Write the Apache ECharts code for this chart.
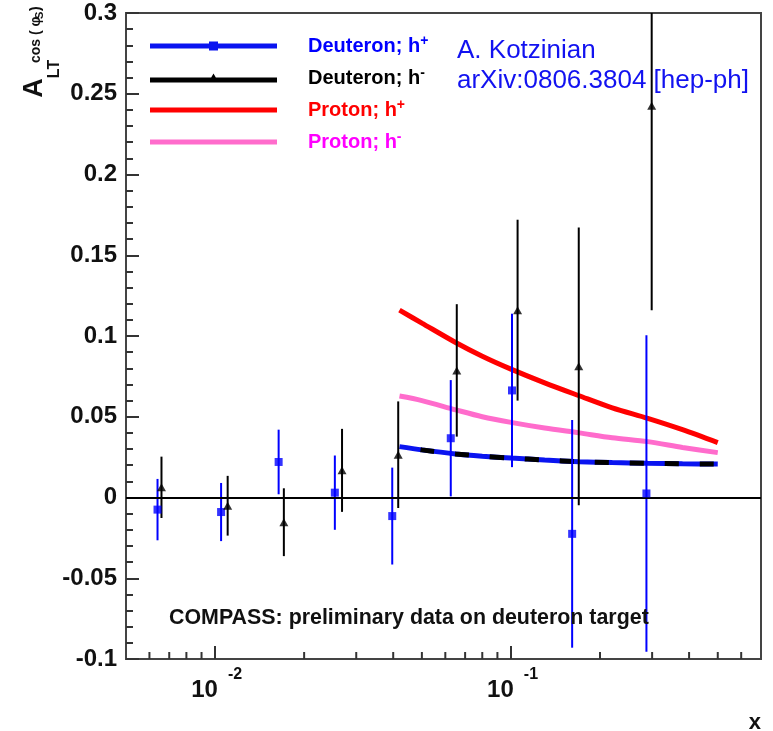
<!DOCTYPE html>
<html>
<head>
<meta charset="utf-8">
<script src="https://cdn.jsdelivr.net/npm/echarts@6/dist/echarts.min.js"></script>
<style>
  html, body { margin: 0; padding: 0; background: #ffffff; }
  #chart { width: 773px; height: 731px; }
</style>
</head>
<body>
<div id="chart"></div>
<script>
// COMPASS deuteron data, h+ (x, asymmetry, stat. error)
const xDeutPlus     = [0.00639, 0.01048, 0.0164, 0.0254, 0.0397, 0.0626, 0.1008, 0.161, 0.287];
const asymDeutPlus  = [-0.0075, -0.009, 0.022, 0.003, -0.0115, 0.0367, 0.0663, -0.0225, 0.0025];
const errDeutPlus   = [0.019, 0.018, 0.020, 0.023, 0.030, 0.036, 0.0475, 0.0705, 0.098];

// COMPASS deuteron data, h-
const xDeutMinus    = [0.00659, 0.01103, 0.01708, 0.02686, 0.04159, 0.0656, 0.1053, 0.1695, 0.299];
const asymDeutMinus = [0.0063, -0.0051, -0.0153, 0.0168, 0.0265, 0.0787, 0.116, 0.0812, 0.2425];
const errDeutMinus  = [0.019, 0.0185, 0.021, 0.0257, 0.033, 0.041, 0.056, 0.086, 0.1265];

// model predictions (A. Kotzinian)
const xModel           = [0.042, 0.05, 0.065, 0.08, 0.1, 0.13, 0.17, 0.22, 0.29, 0.38, 0.5];
const modelProtonPlus  = [0.116, 0.108, 0.096, 0.0875, 0.0795, 0.071, 0.063, 0.0555, 0.049, 0.042, 0.034];
const modelProtonMinus = [0.0628, 0.060, 0.0543, 0.050, 0.0465, 0.043, 0.040, 0.037, 0.0346, 0.031, 0.0278];
const modelDeutPlus    = [0.0315, 0.0295, 0.027, 0.0256, 0.0244, 0.0232, 0.0222, 0.0216, 0.0212, 0.0209, 0.0207];
const modelDeutMinus   = [0.0315, 0.0295, 0.027, 0.0256, 0.0244, 0.0232, 0.0222, 0.0216, 0.0212, 0.0209, 0.0207];

// axes
const xRange = [0.005, 0.7];
const yRange = [-0.1, 0.3];
const yStep = 0.05;
const xDecadeExponents = [-2, -1];
const xMinorTicks = [0.006, 0.007, 0.008, 0.009,
                     0.02, 0.03, 0.04, 0.05, 0.06, 0.07, 0.08, 0.09,
                     0.2, 0.3, 0.4, 0.5, 0.6];

const seriesNames = ['Deuteron; h+', 'Deuteron; h-', 'Proton; h+', 'Proton; h-'];
const lineColors  = ['#0a14f0', '#000000', '#ff0000', '#ff6ccc'];
const textColors  = ['#0000ff', '#000000', '#ff0000', '#ff00ff'];
const legendIcons = [
  'path://M0,2H127V7H0Z M59,0H68V9H59Z',
  'path://M0,4H127V9H0Z M63.5,0L67,6H60Z',
  'path://M0,0H127V5H0Z',
  'path://M0,0H127V5H0Z'
];

const FONT = '"Liberation Sans", Arial, Helvetica, sans-serif';

function pairs(xs, ys) { return xs.map((x, i) => [x, ys[i]]); }

// decade exponent of a tick value, or null when the tick is not a labelled decade
function decadeOf(v) {
  const e = Math.log10(v);
  const k = Math.round(e);
  return (Math.abs(e - k) < 1e-6 && xDecadeExponents.indexOf(k) >= 0) ? k : null;
}

function errorBars(name, xs, ys, errs, color) {
  return {
    type: 'custom',
    name: name,
    z: 4,
    clip: true,
    silent: true,
    data: xs.map((x, i) => [x, ys[i], errs[i]]),
    encode: { x: 0, y: 1 },
    renderItem: function (params, api) {
      const x = api.value(0), y = api.value(1), e = api.value(2);
      const lo = api.coord([x, Math.max(y - e, yRange[0])]);
      const hi = api.coord([x, Math.min(y + e, yRange[1])]);
      return {
        type: 'line',
        shape: { x1: lo[0], y1: lo[1], x2: hi[0], y2: hi[1] },
        style: { stroke: color, lineWidth: 2 }
      };
    }
  };
}

function modelLine(name, ys, color, dash) {
  return {
    type: 'line',
    name: name,
    z: 2,
    data: pairs(xModel, ys),
    smooth: 0.3,
    showSymbol: false,
    symbol: 'none',
    silent: true,
    lineStyle: dash
      ? { color: color, width: 5, type: dash, dashOffset: 14, cap: 'butt' }
      : { color: color, width: 5, cap: 'butt' },
    itemStyle: { color: color }
  };
}

function vText(x, y, text, font, align) {
  return {
    type: 'text', x: x, y: y, rotation: Math.PI / 2, z: 10,
    style: { text: text, font: font, fill: '#111', align: align || 'center', verticalAlign: 'middle' }
  };
}

const chart = echarts.init(document.getElementById('chart'), null, { renderer: 'canvas' });

chart.setOption({
  animation: false,
  backgroundColor: '#ffffff',
  textStyle: { fontFamily: FONT },
  grid: {
    left: 126, top: 13, width: 635, height: 646,
    containLabel: false,
    outerBoundsMode: 'none',
    show: true, borderColor: '#444', borderWidth: 2, backgroundColor: 'transparent'
  },
  xAxis: [
    {
      // main log axis: line, ticks and the mantissa "10" of each decade label
      type: 'log',
      logBase: 10,
      min: xRange[0],
      max: xRange[1],
      name: 'x',
      nameLocation: 'end',
      nameGap: 0,
      nameTextStyle: {
        fontFamily: FONT, fontSize: 22, fontWeight: 'bold', color: '#111',
        align: 'right', verticalAlign: 'top', padding: [53, 0, 0, 0]
      },
      axisLine: { show: true, onZero: false, lineStyle: { color: '#444', width: 2 } },
      axisTick: { show: true, inside: true, length: 13, lineStyle: { color: '#333', width: 2 } },
      splitLine: { show: false },
      axisLabel: {
        margin: 19,
        color: '#111',
        fontFamily: FONT,
        fontSize: 24,
        fontWeight: 'bold',
        lineHeight: 24,
        padding: [0, 21, 0, 0],
        showMinLabel: false,
        showMaxLabel: false,
        formatter: function (v) { return decadeOf(v) === null ? '' : '10'; }
      }
    },
    {
      // same scale, carrying only the decade exponents as superscripts
      type: 'log',
      logBase: 10,
      min: xRange[0],
      max: xRange[1],
      position: 'bottom',
      axisLine: { show: false },
      axisTick: { show: false },
      splitLine: { show: false },
      axisLabel: {
        margin: 8,
        color: '#111',
        fontFamily: FONT,
        fontSize: 16,
        fontWeight: 'bold',
        lineHeight: 16,
        padding: [0, 0, 0, 40],
        showMinLabel: false,
        showMaxLabel: false,
        formatter: function (v) { const k = decadeOf(v); return k === null ? '' : String(k); }
      }
    }
  ],
  yAxis: {
    type: 'value',
    min: yRange[0],
    max: yRange[1],
    interval: yStep,
    axisLine: { show: true, onZero: false, lineStyle: { color: '#444', width: 2 } },
    axisTick: { show: true, inside: true, length: 13, lineStyle: { color: '#333', width: 2 } },
    minorTick: { show: true, splitNumber: 5, length: 7, lineStyle: { color: '#333', width: 2 } },
    splitLine: { show: false },
    minorSplitLine: { show: false },
    axisLabel: {
      margin: 9,
      color: '#111',
      fontFamily: FONT,
      fontSize: 24,
      fontWeight: 'bold'
    }
  },
  legend: {
    show: true,
    orient: 'vertical',
    left: 145,
    top: 29,
    itemWidth: 127,
    itemHeight: 9,
    itemGap: 10,
    selectedMode: false,
    symbolKeepAspect: true,
    itemStyle: { borderWidth: 0 },
    formatter: function (name) {
      return '{n|' + name.slice(0, -1) + '}{s|' + name.slice(-1) + '}';
    },
    textStyle: {
      padding: [0, 0, 0, 26],
      rich: {
        n: { fontFamily: FONT, fontSize: 20, fontWeight: 'bold', lineHeight: 24 },
        s: { fontFamily: FONT, fontSize: 14, fontWeight: 'bold', lineHeight: 14, verticalAlign: 'top' }
      }
    },
    data: seriesNames.map((n, i) => ({
      name: n,
      icon: legendIcons[i],
      itemStyle: { color: lineColors[i], borderWidth: 0 },
      textStyle: { color: textColors[i] }
    }))
  },
  graphic: [
    // y-axis title: A_LT^{cos(phi_S)}
    vText(35, 88, 'A', 'bold 27px ' + FONT),
    vText(55, 69, 'LT', 'bold 16px ' + FONT),
    vText(36, 63, 'cos ( \u03C6', 'bold 14px ' + FONT, 'left'),
    vText(40, 19, 'S', 'bold 11px ' + FONT, 'left'),
    vText(36, 11, ')', 'bold 14px ' + FONT, 'left'),
    // model reference
    { type: 'text', x: 457, y: 51, z: 10,
      style: { text: 'A. Kotzinian', font: '26px ' + FONT, fill: '#1212f0', align: 'left', verticalAlign: 'middle' } },
    { type: 'text', x: 457, y: 81, z: 10,
      style: { text: 'arXiv:0806.3804 [hep-ph]', font: '26px ' + FONT, fill: '#1212f0', align: 'left', verticalAlign: 'middle' } },
    // data label
    { type: 'text', x: 169, y: 618, z: 10,
      style: { text: 'COMPASS: preliminary data on deuteron target', font: 'bold 21.4px ' + FONT, fill: '#111', align: 'left', verticalAlign: 'middle' } }
  ],
  series: [
    // minor ticks of the logarithmic x axis
    {
      type: 'custom',
      silent: true,
      z: 5,
      data: xMinorTicks.map(v => [v, yRange[0]]),
      encode: { x: 0, y: 1 },
      renderItem: function (params, api) {
        const p = api.coord([api.value(0), api.value(1)]);
        return {
          type: 'line',
          shape: { x1: p[0], y1: p[1], x2: p[0], y2: p[1] - 7 },
          style: { stroke: '#333', lineWidth: 2 }
        };
      }
    },
    modelLine(seriesNames[2], modelProtonPlus, lineColors[2]),
    modelLine(seriesNames[3], modelProtonMinus, lineColors[3]),
    modelLine(seriesNames[0], modelDeutPlus, lineColors[0]),
    modelLine(seriesNames[1], modelDeutMinus, lineColors[1], [14, 21]),
    errorBars(seriesNames[0], xDeutPlus, asymDeutPlus, errDeutPlus, '#0000ff'),
    errorBars(seriesNames[1], xDeutMinus, asymDeutMinus, errDeutMinus, '#000000'),
    {
      type: 'scatter',
      name: seriesNames[0],
      z: 6,
      silent: true,
      symbol: 'rect',
      symbolSize: 8,
      itemStyle: { color: '#0000ff' },
      data: pairs(xDeutPlus, asymDeutPlus),
      markLine: {
        silent: true,
        symbol: ['none', 'none'],
        label: { show: false },
        lineStyle: { color: '#000000', width: 2, type: 'solid' },
        data: [{ yAxis: 0 }]
      }
    },
    {
      type: 'scatter',
      name: seriesNames[1],
      z: 6,
      silent: true,
      symbol: 'triangle',
      symbolSize: [9, 8],
      itemStyle: { color: '#000000' },
      data: pairs(xDeutMinus, asymDeutMinus)
    }
  ]
});
</script>
</body>
</html>
